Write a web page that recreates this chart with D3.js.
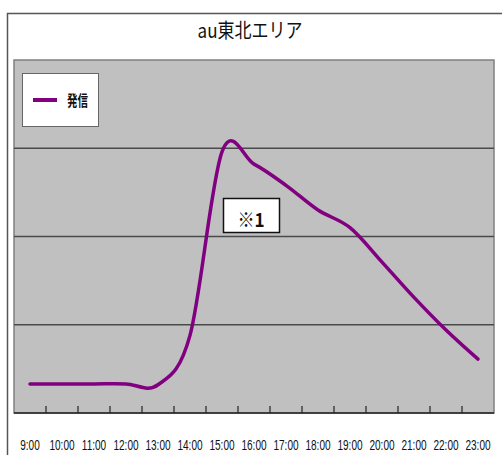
<!DOCTYPE html>
<html>
<head>
<meta charset="utf-8">
<script src="https://cdn.jsdelivr.net/npm/d3@7"></script>
<style>
  body { margin: 0; background: #fff; }
  svg { display: block; }
</style>
</head>
<body>
<div id="chart"></div>
<script>
// Hours on the x axis.
const hours = ["9:00", "10:00", "11:00", "12:00", "13:00", "14:00", "15:00", "16:00",
               "17:00", "18:00", "19:00", "20:00", "21:00", "22:00", "23:00"];

// Outgoing calls (relative level).
const outgoing = [0.33, 0.33, 0.33, 0.33, 0.32, 0.88, 2.96, 2.82, 2.58, 2.30, 2.10, 1.71, 1.31, 0.94, 0.61];

// Gridline levels.
const gridLevels = [1, 2, 3];

const seriesName = "発信";
const chartTitle = "au東北エリア";
const noteText = "※1";

const W = 502, H = 455;
const plot = { left: 14, top: 60, right: 494, bottom: 413 };

let svg = d3.select("#chart")
    .append("svg")
    .attr("width", W)
    .attr("height", H);

// Outer chart border (right and bottom run off the picture).
svg.append("rect")
    .attr("x", 7.5)
    .attr("y", 13.5)
    .attr("width", 520)
    .attr("height", 480)
    .attr("fill", "#fff")
    .attr("stroke", "#555")
    .attr("stroke-width", 1.5);

// Title (narrow look, squeezed horizontally).
svg.append("text")
    .attr("transform", "translate(250, 38) scale(0.85, 1)")
    .attr("text-anchor", "middle")
    .style("font-family", "'Noto Sans CJK JP', sans-serif")
    .style("font-size", "20px")
    .attr("fill", "#111")
    .text(chartTitle);

// Scales.
let x = d3.scaleBand()
    .domain(hours)
    .range([plot.left, plot.right])
    .padding(0);

let y = d3.scaleLinear()
    .domain([0, 4])
    .range([plot.bottom, plot.top]);

// Plot area background.
svg.append("rect")
    .attr("x", plot.left)
    .attr("y", plot.top)
    .attr("width", plot.right - plot.left)
    .attr("height", plot.bottom - plot.top)
    .attr("fill", "#c0c0c0")
    .attr("stroke", "#808080")
    .attr("stroke-width", 1.5);

// Horizontal gridlines.
svg.append("g")
    .selectAll("line")
    .data(gridLevels)
    .enter().append("line")
    .attr("x1", plot.left)
    .attr("x2", plot.right)
    .attr("y1", d => y(d))
    .attr("y2", d => y(d))
    .attr("stroke", "#4a4a4a")
    .attr("stroke-width", 1.5);

// X axis line.
svg.append("line")
    .attr("x1", plot.left)
    .attr("x2", plot.right)
    .attr("y1", plot.bottom)
    .attr("y2", plot.bottom)
    .attr("stroke", "#222")
    .attr("stroke-width", 1.5);

// Tick marks between categories, pointing up into the plot.
svg.append("g")
    .selectAll("line")
    .data(hours.slice(1))
    .enter().append("line")
    .attr("x1", d => x(d))
    .attr("x2", d => x(d))
    .attr("y1", plot.bottom)
    .attr("y2", plot.bottom - 7)
    .attr("stroke", "#222")
    .attr("stroke-width", 1.2);

// Hour labels (squeezed, the original uses a narrow font).
svg.append("g")
    .attr("transform", `translate(0, ${plot.bottom})`)
    .call(d3.axisBottom(x).tickSize(0).tickPadding(0))
    .call(g => g.select(".domain").remove())
    .selectAll("text")
        .attr("y", 0)
        .attr("dy", null)
        .attr("transform", "translate(0, 37) scale(0.67, 1)")
        .style("font-family", "'Liberation Sans', sans-serif")
        .style("font-size", "15px")
        .attr("fill", "#111");

// The line.
let line = d3.line()
    .x((d, i) => x(hours[i]) + x.bandwidth() / 2)
    .y(d => y(d))
    .curve(d3.curveCatmullRom.alpha(0));

svg.append("path")
    .datum(outgoing)
    .attr("d", line)
    .attr("fill", "none")
    .attr("stroke", "#800080")
    .attr("stroke-width", 3.5)
    .attr("stroke-linejoin", "round")
    .attr("stroke-linecap", "round");

// Legend.
let legend = svg.append("g");

legend.append("rect")
    .attr("x", 22.5)
    .attr("y", 73.5)
    .attr("width", 76)
    .attr("height", 53)
    .attr("fill", "#fff")
    .attr("stroke", "#666")
    .attr("stroke-width", 1);

legend.append("line")
    .attr("x1", 33)
    .attr("x2", 57)
    .attr("y1", 100)
    .attr("y2", 100)
    .attr("stroke", "#800080")
    .attr("stroke-width", 4);

legend.append("text")
    .attr("transform", "translate(67, 106) scale(0.7, 1)")
    .style("font-family", "'Noto Sans CJK JP', sans-serif")
    .style("font-size", "15px")
    .style("font-weight", "bold")
    .attr("fill", "#111")
    .text(seriesName);

// Note box.
svg.append("rect")
    .attr("x", 223.5)
    .attr("y", 198.5)
    .attr("width", 56)
    .attr("height", 34)
    .attr("fill", "#fff")
    .attr("stroke", "#111")
    .attr("stroke-width", 1.5);

svg.append("text")
    .attr("transform", "translate(251, 227) scale(0.9, 1)")
    .attr("text-anchor", "middle")
    .style("font-family", "'Noto Sans CJK JP', sans-serif")
    .style("font-size", "19px")
    .style("font-weight", "bold")
    .attr("fill", "#111")
    .text(noteText);
</script>
</body>
</html>
